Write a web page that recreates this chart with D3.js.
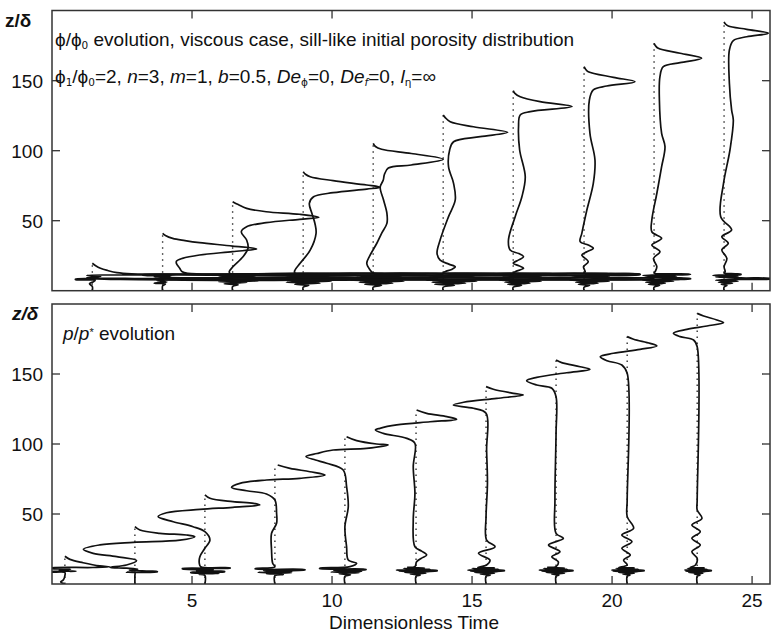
<!DOCTYPE html>
<html>
<head>
<meta charset="utf-8">
<script src="https://cdn.jsdelivr.net/npm/d3@7"></script>
<style>
body { margin: 0; background: #fff; }
text { font-family: "Liberation Sans", Arial, sans-serif; fill: #111; }
</style>
</head>
<body>
<svg id="chart" width="771" height="638"></svg>
<script>
// profile times (position of the dotted reference line), dimensionless time
const phiTimes = [1.44, 3.95, 6.45, 8.97, 11.47, 13.97, 16.47, 19.0, 21.5, 24.0];
const pTimes = [0.46, 2.96, 5.46, 7.96, 10.46, 13.0, 15.5, 18.0, 20.54, 23.04];

// porosity profiles: [z/delta, horizontal displacement from the dotted line]
const phiProfiles = [
  [[19.6,0],[17.8,0.12],[16,0.29],[14.4,0.55],[12.9,0.88],[12.1,1.4],[11.8,4],[11.7,9],[11.4,9],[11.2,3],[11.0,-0.2],[10.2,0.3],[9.4,-0.2],[8.7,1.5],[8.5,8],[8.2,8],[8.1,1],[8.3,-0.6],[7.9,-0.6],[7.5,0.1],[6.5,0.05],[5,-0.1],[3,0],[0,0]],
  [[41,0],[39.5,0.1],[37.4,0.36],[35.8,0.8],[34.3,1.32],[31.9,2.5],[29.8,3.36],[27.9,2.5],[25.5,1.32],[23.1,0.71],[21.2,0.5],[19.6,0.49],[16,0.61],[13.5,0.7],[12.4,0.9],[12.0,3],[11.9,8],[11.6,8],[11.5,2],[11.4,-0.7],[11.1,-0.7],[10.6,0.3],[9.8,-0.3],[9.2,0.9],[8.6,7.5],[8.3,7.5],[8.0,0.5],[7.2,-0.2],[6.2,0.15],[5.4,-0.3],[4.8,0.1],[3.5,0],[0,0]],
  [[63.6,0],[61.5,0.2],[58.8,0.5],[56.4,1.2],[54.6,2.39],[52.4,3.08],[51,2.39],[48.6,1.2],[45.7,0.5],[42.1,0.31],[36.2,0.5],[30.3,0.55],[24.3,0.37],[17.1,0.01],[13.6,-0.12],[12.4,-0.1],[12.0,2],[11.8,7.5],[11.5,7.5],[11.3,1],[11.0,-0.6],[10.4,0.8],[9.8,-0.5],[9.2,1.0],[8.7,6.5],[8.4,7],[8.1,0.6],[7.6,-0.8],[7.0,0.9],[6.4,-0.5],[5.8,0.5],[5.0,-0.3],[4.2,0.2],[3,0],[0,0]],
  [[85,0],[83.2,0.08],[81.4,0.25],[78.6,1.07],[75.5,2.27],[73.9,2.75],[72.6,2.27],[70,1.07],[67.1,0.37],[62.4,0.22],[55.3,0.31],[48,0.42],[41,0.46],[29,0.25],[19.6,-0.11],[14.5,-0.3],[12.6,-0.3],[12.1,1.5],[11.8,7],[11.5,7],[11.3,0.5],[10.9,-0.7],[10.3,0.9],[9.7,-0.6],[9.1,1.2],[8.7,6.5],[8.4,6.5],[8.1,0.4],[7.5,-0.7],[6.8,1.0],[6.1,-0.6],[5.4,0.6],[4.6,-0.3],[3.8,0.2],[2.5,0],[0,0]],
  [[105.3,0],[103,0.08],[101,0.3],[98,1.36],[93.9,2.5],[89.8,1.36],[87.6,0.54],[83,0.4],[79,0.36],[73.9,0.25],[64.8,0.37],[55.3,0.49],[48.1,0.49],[41,0.3],[33.9,0.13],[25,-0.12],[19.6,-0.23],[14.8,-0.11],[12.6,0],[12.1,1.5],[11.8,6.5],[11.5,6.5],[11.3,0.5],[10.9,-0.5],[10.3,1.0],[9.7,-0.6],[9.1,1.3],[8.7,6],[8.4,6],[8.1,0.5],[7.5,-0.8],[6.8,1.1],[6.1,-0.5],[5.4,0.7],[4.6,-0.3],[3.8,0.3],[2.5,0],[0,0]],
  [[125.5,0],[123.5,0.08],[120.7,0.25],[117.1,1.08],[113.1,2.3],[110,1.32],[106.4,0.37],[100.5,0.23],[88.6,0.19],[76.7,0.37],[64.8,0.43],[52.9,0.19],[36.2,-0.11],[26.7,-0.22],[21.9,-0.11],[19,0.2],[17.1,0.43],[15.2,0.3],[13.6,0.07],[12.6,0],[12.1,1.5],[11.8,6],[11.5,6],[11.3,0.5],[10.9,-0.4],[10.3,1.1],[9.7,-0.5],[9.1,1.3],[8.7,5.5],[8.4,5.5],[8.1,0.6],[7.5,-0.6],[6.8,1.2],[6.1,-0.4],[5.4,0.8],[4.6,-0.3],[3.8,0.4],[2.5,0],[0,0]],
  [[142.9,0],[141,0.06],[138.6,0.25],[135,0.96],[131.5,2.1],[127.9,0.61],[125.5,0.25],[117.1,0.19],[100.5,0.23],[81.4,0.43],[67.1,0.31],[52.9,0.07],[36.2,-0.17],[29.1,-0.11],[26.5,0.2],[24.3,0.37],[22,0.2],[19.6,0],[17.8,0.2],[16,0.37],[13.6,0.07],[12.6,0],[12.1,1.2],[11.8,4.5],[11.5,4.5],[11.3,0.5],[10.9,-0.4],[10.3,1.0],[9.7,-0.4],[9.1,1.2],[8.7,5],[8.4,5],[8.1,0.5],[7.5,-0.5],[6.8,1.0],[6.1,-0.3],[5.4,0.6],[4.6,-0.2],[3.8,0.3],[2.5,0],[0,0]],
  [[160,0],[158.3,0.05],[156.4,0.15],[152.4,1.05],[149.3,1.82],[146.2,0.81],[143.4,0.33],[136.2,0.19],[112.4,0.21],[93.4,0.39],[76.7,0.33],[57.6,0.1],[41,-0.08],[35,-0.14],[32.6,0.15],[30.3,0.33],[27.8,0.1],[25.5,-0.08],[20.7,0.15],[17.1,-0.02],[13.6,0.04],[12.6,0],[12.1,1.0],[11.8,2],[11.5,2],[11.3,0.3],[10.9,-0.5],[10.3,0.9],[9.7,-0.4],[9.1,1.0],[8.7,3.5],[8.4,3.5],[8.1,0.4],[7.5,-0.5],[6.8,0.9],[6.1,-0.3],[5.4,0.5],[4.6,-0.2],[3.8,0.2],[2.5,0],[0,0]],
  [[176.7,0],[175,0.05],[173.1,0.15],[169.6,0.93],[166,1.7],[162.9,0.93],[160,0.33],[152.9,0.21],[136.2,0.19],[112.4,0.27],[102.9,0.39],[88.6,0.27],[69.6,0.1],[50.5,-0.08],[42.1,-0.08],[37.4,0.27],[32.6,-0.08],[27.9,0.21],[23.1,-0.02],[17.1,0.1],[13.6,0.04],[12.6,0],[12.1,0.6],[11.8,1.3],[11.5,1.2],[11.3,0.2],[10.9,-0.4],[10.3,0.8],[9.7,-0.3],[9.1,0.9],[8.7,1.3],[8.4,1.3],[8.1,0.3],[7.5,-0.4],[6.8,0.7],[6.1,-0.3],[5.4,0.4],[4.6,-0.2],[3.8,0.2],[2.5,0],[0,0]],
  [[192.1,0],[190.5,0.05],[189.1,0.15],[186.7,0.81],[183.9,1.58],[181.4,0.81],[178.6,0.33],[171.9,0.19],[148.1,0.19],[129,0.27],[121.9,0.33],[100.5,0.21],[76.7,-0.02],[52.9,-0.12],[43.4,0.27],[38.6,-0.08],[33.9,0.15],[29.1,-0.08],[23.1,0.1],[17.1,0],[13.6,0.04],[12.6,0],[12.1,0.4],[11.8,0.6],[11.5,0.6],[11.3,0.1],[10.9,-0.4],[10.3,0.5],[9.7,-0.3],[9.1,0.6],[8.7,1.7],[8.4,1.7],[8.1,0.3],[7.5,-0.3],[6.8,0.5],[6.1,-0.2],[5.4,0.3],[4.6,-0.1],[3.8,0.1],[2.5,0],[0,0]]
];

// pressure profiles: [z/delta, horizontal displacement from the dotted line]
const pProfiles = [
  [[19.8,0],[17.6,0.18],[15.2,0.65],[12.9,1.25],[12.3,1.6],[11.8,1.0],[11.4,-0.5],[11.1,-0.5],[10.6,0.2],[9.8,-0.2],[9.1,0.4],[8.8,-0.5],[8.5,-0.5],[8.2,0],[6,0],[3,-0.05],[1.5,-0.15],[0,0]],
  [[41,0],[38.6,0.18],[36.2,0.89],[35,1.84],[33.8,2.14],[31.4,1.61],[29.8,-0.06],[27.9,-1.25],[24.8,-1.84],[21.9,-1.49],[19.5,-0.65],[16.7,0.06],[13.6,-0.3],[11.9,-0.89],[11.3,-0.3],[10.6,0.1],[9.9,-0.2],[9.2,0.5],[8.9,0.8],[8.6,0.8],[8.4,-0.3],[8.1,0],[6,0],[3,0],[0,0]],
  [[63.6,0],[61.2,0.18],[58.8,1.0],[57.6,1.74],[56.4,1.96],[54.8,1.0],[53.3,-0.18],[50.9,-1.37],[48.1,-1.67],[44.5,-1.13],[40.9,-0.42],[37.4,0],[31.4,0.18],[25.5,0],[19.5,-0.18],[14.8,-0.2],[12.4,-0.15],[11.6,0.9],[11.3,0.9],[11.1,-0.8],[10.8,-0.8],[10.2,0.3],[9.4,-0.3],[9.0,0.7],[8.7,0.7],[8.4,-0.5],[8.1,-0.5],[7.6,0.5],[7.0,-0.2],[6,0],[0,0]],
  [[85,0.1],[82.6,0.54],[80.2,1.25],[77.9,1.79],[75.5,0.89],[74.3,-0.3],[71.9,-1.25],[69,-1.55],[66.6,-1.01],[64.3,-0.3],[60,0],[50.5,0.06],[43.4,0.06],[36.2,-0.12],[24.3,-0.12],[14.8,-0.08],[12.2,0],[11.0,-0.7],[10.7,-0.7],[10.3,1.07],[10.0,1.07],[9.5,-0.4],[8.8,0.6],[8.3,-0.6],[8.0,0.6],[7.4,-0.3],[6.8,0.3],[6,0],[0,0]],
  [[105.2,0.06],[102.4,0.42],[100,1.13],[99.3,1.54],[96.9,0.77],[95.7,-0.42],[93.2,-1.0],[91,-1.39],[88.6,-1.05],[86.2,-0.65],[81.4,-0.06],[69.5,0.06],[55.2,0.12],[40.9,0],[26.6,0.06],[17.1,0.12],[14.8,0.42],[12.4,0.18],[11.2,-0.9],[10.9,-0.9],[10.5,0.75],[10.2,0.75],[9.6,-0.4],[9.0,0.6],[8.5,-0.5],[8.1,0.5],[7.4,-0.2],[6.6,0.2],[5.5,0],[0,0]],
  [[124.3,0.02],[121.9,0.38],[119.5,1.1],[117.6,1.45],[115.9,0.5],[113.6,-0.69],[111.2,-1.29],[110,-1.45],[107.6,-1.17],[104,-0.33],[100.5,-0.04],[83.8,-0.1],[64.8,-0.04],[45.7,-0.1],[26.6,-0.04],[23.5,0.2],[20.7,0.38],[18.5,0.2],[15.9,0.02],[12.4,-0.04],[11.8,-0.3],[11.5,0.3],[11.0,-0.45],[10.6,0.5],[10.0,-0.7],[9.7,0.75],[9.4,0.75],[9.1,-0.6],[8.7,0.5],[8.2,-0.4],[7.7,0.35],[7.1,-0.2],[6.4,0.15],[5.5,0],[0,0]],
  [[141,0],[139.1,0.26],[136.2,0.98],[135,1.33],[132.6,0.38],[129.8,-0.8],[127.8,-1.17],[125.5,-0.45],[121.9,0],[95.7,0.02],[71.9,0.05],[48.1,0],[31.4,0.02],[26.6,0.32],[21.9,-0.27],[17.1,0.14],[13.6,0.02],[11.8,-0.3],[11.5,0.3],[11.0,-0.5],[10.6,0.45],[10.0,-0.65],[9.7,0.65],[9.4,0.65],[9.1,-0.55],[8.7,0.45],[8.2,-0.4],[7.7,0.3],[7.1,-0.2],[6.4,0.15],[5.5,0],[0,0]],
  [[160,0],[158.1,0.2],[155.2,0.86],[153.3,1.21],[150.9,0.38],[147.6,-0.69],[145.2,-1.05],[142.1,-0.69],[139.8,-0.15],[133.8,0],[107.6,0],[60,-0.04],[36.2,0],[32.6,0.26],[27.9,-0.27],[23.1,0.14],[19.5,-0.15],[15.9,0.08],[12.4,0],[11.8,-0.3],[11.5,0.3],[11.0,-0.45],[10.6,0.4],[10.0,-0.6],[9.7,0.6],[9.4,0.6],[9.1,-0.5],[8.7,0.4],[8.2,-0.35],[7.7,0.3],[7.1,-0.15],[6.4,0.1],[5.5,0],[0,0]],
  [[176.7,0],[174.8,0.23],[171.9,0.82],[170,1.06],[167.6,0.46],[164.8,-0.49],[162.4,-0.96],[159.5,-0.72],[156.4,-0.19],[150.5,0],[60,0],[48.1,0],[39.8,0.23],[35,-0.19],[30.2,0.17],[25.5,-0.19],[20.7,0.11],[17.1,-0.13],[13.6,0],[11.8,-0.3],[11.5,0.25],[11.0,-0.4],[10.6,0.4],[10.0,-0.55],[9.7,0.6],[9.4,0.6],[9.1,-0.5],[8.7,0.4],[8.2,-0.3],[7.7,0.25],[7.1,-0.15],[6.4,0.1],[5.5,0],[0,0]],
  [[193.3,0],[191.4,0.23],[188.6,0.7],[186.7,0.94],[184.3,0.35],[181.9,-0.37],[179.1,-0.85],[176.7,-0.61],[174.3,-0.13],[169.5,0],[60,0],[52.9,0],[46.9,0.17],[42.1,-0.19],[37.4,0.11],[32.6,-0.19],[27.9,0.11],[23.1,-0.19],[18.3,0],[13.6,-0.06],[11.8,-0.25],[11.5,0.25],[11.0,-0.35],[10.6,0.35],[10.0,-0.45],[9.7,0.5],[9.4,0.5],[9.1,-0.4],[8.7,0.3],[8.2,-0.3],[7.7,0.2],[7.1,-0.1],[6.4,0.1],[5.5,0],[0,0]]
];

const xTicks = [5, 10, 15, 20, 25];
const yTicks = [50, 100, 150];

// set svg parameters
const svg = d3.select("#chart");
const left = 52, right = 770;
const panels = [
  {top: 10.5, bottom: 290.7, times: phiTimes, profiles: phiProfiles, id: "phi"},
  {top: 304, bottom: 584, times: pTimes, profiles: pProfiles, id: "p"}
];

const x = d3.scaleLinear().domain([0, 25.64]).range([left, right]);

panels.forEach(function(pn) {
  const y = d3.scaleLinear().domain([0, 200]).range([pn.bottom, pn.bottom - 280]);
  const g = svg.append("g");

  g.append("clipPath").attr("id", "clip-" + pn.id)
    .append("rect")
    .attr("x", left).attr("y", pn.top)
    .attr("width", right - left).attr("height", pn.bottom - pn.top);

  const plot = g.append("g").attr("clip-path", "url(#clip-" + pn.id + ")");

  // dotted reference lines
  plot.selectAll("line.ref")
    .data(pn.times)
    .join("line")
    .attr("class", "ref")
    .attr("x1", d => x(d)).attr("x2", d => x(d))
    .attr("y1", y(0))
    .attr("y2", (d, i) => y(pn.profiles[i][0][0]))
    .attr("stroke", "#333")
    .attr("stroke-width", 1.4)
    .attr("stroke-dasharray", "1.4,4.6");

  // profiles
  plot.selectAll("path.prof")
    .data(pn.profiles)
    .join("path")
    .attr("class", "prof")
    .attr("fill", "none")
    .attr("stroke", "#111")
    .attr("stroke-width", 1.7)
    .attr("stroke-linejoin", "round")
    .attr("d", function(d, i) {
      const t0 = pn.times[i];
      return d3.line()
        .x(p => x(t0 + p[1]))
        .y(p => y(p[0]))
        .curve(d3.curveCatmullRom.alpha(0.5))(d);
    });

  // frame
  g.append("rect")
    .attr("x", left).attr("y", pn.top)
    .attr("width", right - left).attr("height", pn.bottom - pn.top)
    .attr("fill", "none").attr("stroke", "#333").attr("stroke-width", 1.5);

  // inward ticks
  const tk = 8;
  xTicks.forEach(function(t) {
    g.append("line").attr("x1", x(t)).attr("x2", x(t)).attr("y1", pn.top).attr("y2", pn.top + tk)
      .attr("stroke", "#333").attr("stroke-width", 1.3);
    g.append("line").attr("x1", x(t)).attr("x2", x(t)).attr("y1", pn.bottom).attr("y2", pn.bottom - tk)
      .attr("stroke", "#333").attr("stroke-width", 1.3);
  });
  yTicks.forEach(function(v) {
    g.append("line").attr("x1", left).attr("x2", left + tk).attr("y1", y(v)).attr("y2", y(v))
      .attr("stroke", "#333").attr("stroke-width", 1.3);
    g.append("line").attr("x1", right).attr("x2", right - tk).attr("y1", y(v)).attr("y2", y(v))
      .attr("stroke", "#333").attr("stroke-width", 1.3);
    g.append("text")
      .attr("x", left - 9).attr("y", y(v))
      .attr("dy", "0.36em")
      .attr("text-anchor", "end")
      .style("font-size", "19px")
      .text(v);
  });
});

// x tick labels (bottom panel only)
svg.selectAll("text.xt")
  .data(xTicks)
  .join("text")
  .attr("class", "xt")
  .attr("x", d => x(d))
  .attr("y", 607)
  .attr("text-anchor", "middle")
  .style("font-size", "19px")
  .text(d => d);

svg.append("text")
  .attr("x", 414).attr("y", 629)
  .attr("text-anchor", "middle")
  .style("font-size", "19px")
  .text("Dimensionless Time");

// y labels
svg.append("text").attr("x", 5).attr("y", 27)
  .style("font-size", "19px").style("font-weight", "bold")
  .text("z/δ");
svg.append("text").attr("x", 12).attr("y", 320)
  .style("font-size", "19px").style("font-weight", "bold").style("font-style", "italic")
  .text("z/δ");

// annotations
const sub = function(t, s, italic) {
  t.append("tspan").attr("baseline-shift", "-25%")
    .attr("fill", "#111")
    .style("font-size", "10.5px")
    .style("font-family", "'DejaVu Sans', sans-serif")
    .style("font-style", italic ? "italic" : "normal").text(s);
};
const t1 = svg.append("text").attr("x", 55).attr("y", 46).style("font-size", "19px");
t1.append("tspan").text("ϕ/ϕ");
sub(t1, "0");
t1.append("tspan").text(" evolution, viscous case, sill-like initial porosity distribution");

const t2 = svg.append("text").attr("x", 55).attr("y", 83).style("font-size", "19px");
t2.append("tspan").text("ϕ");
sub(t2, "1");
t2.append("tspan").text("/ϕ");
sub(t2, "0");
t2.append("tspan").text("=2, ");
t2.append("tspan").style("font-style", "italic").text("n");
t2.append("tspan").text("=3, ");
t2.append("tspan").style("font-style", "italic").text("m");
t2.append("tspan").text("=1, ");
t2.append("tspan").style("font-style", "italic").text("b");
t2.append("tspan").text("=0.5, ");
t2.append("tspan").style("font-style", "italic").text("De");
sub(t2, "ϕ", false);
t2.append("tspan").text("=0, ");
t2.append("tspan").style("font-style", "italic").text("De");
sub(t2, "f", true);
t2.append("tspan").text("=0, ");
t2.append("tspan").style("font-style", "italic").text("l");
sub(t2, "η", false);
t2.append("tspan").text("=∞");

const t3 = svg.append("text").attr("x", 63).attr("y", 340).style("font-size", "19px");
t3.append("tspan").style("font-style", "italic").text("p");
t3.append("tspan").text("/");
t3.append("tspan").style("font-style", "italic").text("p");
t3.append("tspan").attr("baseline-shift", "35%").style("font-size", "11px").text("*");
t3.append("tspan").text(" evolution");
</script>
</body>
</html>
